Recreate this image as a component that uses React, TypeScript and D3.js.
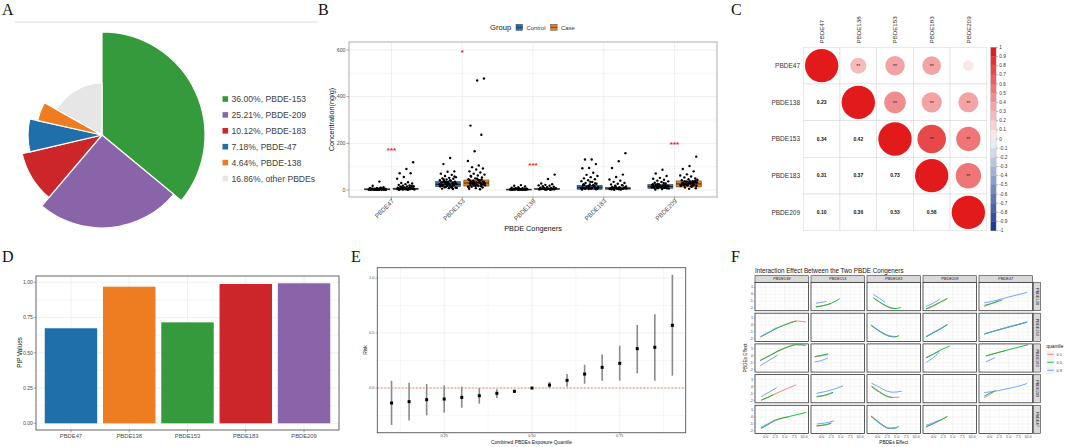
import React from "react";
import * as d3 from "d3";

const FONT = "'Liberation Sans', Arial, Helvetica, sans-serif";
const SERIF = "'Liberation Serif', 'Times New Roman', serif";

// ---------------- Panel A data ----------------
const pieLabels = ["PBDE-153", "PBDE-209", "PBDE-183", "PBDE-47", "PBDE-138", "other PBDEs"];
const pieShares = [36.0, 25.21, 10.12, 7.18, 4.64, 16.86];
const pieColors = ["#359a3b", "#8a64a8", "#cc262a", "#1f6faa", "#ee7d22", "#e6e6e6"];

// ---------------- Panel B data ----------------
const congenersB = ["PBDE47", "PBDE153", "PBDE138", "PBDE183", "PBDE209"];
const groupsB = ["Control", "Case"];
const ctrlQ1 = [1, 14, 1, 3, 7];
const ctrlMed = [3, 24, 2, 10, 15];
const ctrlQ3 = [5, 36, 4, 20, 24];
const caseQ1 = [2, 17, 2, 3, 13];
const caseMed = [5, 30, 4, 7, 26];
const caseQ3 = [8, 43, 7, 12, 39];
const ctrlPoints = [
  [36, 18, 12, 9, 8, 7, 6, 5, 5, 4, 4, 3, 3, 3, 2, 2, 2, 1, 1, 1, 0.5, 0.5, 6, 4, 2, 8, 10, 3, 1, 2, 5, 3, 2, 1, 7, 4, 2, 1, 3, 6, 2, 4, 1, 3],
  [137, 111, 80, 78, 70, 65, 60, 55, 52, 50, 48, 45, 42, 40, 38, 36, 34, 32, 30, 28, 26, 24, 22, 20, 18, 16, 14, 12, 10, 8, 6, 4, 35, 25, 15, 45, 58, 30, 20, 10, 33, 27, 22, 18, 29, 24, 16, 12, 38, 31, 26, 21, 17, 13, 9, 42, 36, 28, 19, 23],
  [21, 18, 15, 12, 10, 8, 7, 6, 5, 4, 4, 3, 3, 2, 2, 1, 1, 1, 0.5, 6, 3, 2, 5, 4, 3, 2, 1, 7, 5, 3, 2, 1, 4, 2],
  [131, 131, 111, 94, 93, 74, 65, 60, 55, 50, 46, 42, 38, 34, 30, 27, 24, 21, 18, 15, 12, 10, 8, 6, 4, 2, 20, 10, 5, 35, 25, 15, 13, 9, 7, 5, 3, 17, 11, 19, 14, 8, 6, 22, 28, 16, 4],
  [87, 71, 60, 52, 48, 44, 40, 37, 34, 31, 28, 25, 22, 20, 18, 16, 14, 12, 10, 8, 6, 4, 2, 15, 20, 25, 30, 12, 17, 13, 9, 21, 19, 11, 15, 23, 7, 14, 18, 10, 26, 16],
];
const casePoints = [
  [119, 90, 72, 72, 56, 48, 33, 30, 28, 25, 22, 20, 18, 16, 15, 14, 12, 11, 10, 9, 8, 7, 6, 5, 4, 3, 2, 1, 13, 17, 9, 6, 4, 2, 7, 5, 3, 8, 6, 4, 2, 10, 5, 3, 1, 12, 9],
  [478, 469, 276, 237, 166, 124, 105, 98, 92, 88, 80, 75, 70, 66, 62, 58, 54, 50, 46, 42, 38, 35, 32, 29, 26, 23, 20, 17, 14, 11, 8, 5, 3, 40, 30, 20, 60, 45, 25, 15, 33, 27, 36, 22, 41, 31, 19, 28, 44, 35, 24, 18, 12, 39, 30, 26, 48, 21, 16, 34],
  [66, 47, 28, 25, 22, 20, 18, 16, 14, 12, 10, 9, 8, 7, 6, 5, 4, 3, 2, 1, 5, 3, 6, 4, 3, 2, 8, 5, 7, 4, 2, 6, 3, 9],
  [158, 123, 94, 66, 56, 45, 40, 35, 30, 27, 24, 21, 18, 15, 12, 10, 8, 6, 4, 2, 1, 9, 5, 3, 20, 14, 7, 9, 5, 11, 6, 8, 4, 10, 7, 3, 13, 6, 9, 5],
  [143, 103, 90, 80, 67, 62, 58, 54, 50, 46, 42, 38, 35, 32, 29, 26, 23, 20, 17, 14, 11, 8, 5, 30, 25, 36, 44, 28, 20, 33, 27, 22, 31, 24, 18, 38, 29, 34, 26, 21, 16, 37, 41, 30, 25, 19],
];
const sigLabels = ["***", "*", "***", "", "***"];
const sigHeights = [171, 590, 108, 0, 198];

// ---------------- Panel C data ----------------
const congenersC = ["PBDE47", "PBDE138", "PBDE153", "PBDE183", "PBDE209"];
const corrRows = [
  [1, 0.23, 0.34, 0.31, 0.1],
  [0.23, 1, 0.42, 0.37, 0.36],
  [0.34, 0.42, 1, 0.73, 0.53],
  [0.31, 0.37, 0.73, 1, 0.58],
  [0.1, 0.36, 0.53, 0.58, 1],
];
const corrStars = [
  ["", "**", "**", "**", ""],
  ["", "", "**", "**", "**"],
  ["", "", "", "**", "**"],
  ["", "", "", "", "**"],
  ["", "", "", "", ""],
];
const colorbarTicks = [1, 0.9, 0.8, 0.7, 0.6, 0.5, 0.4, 0.3, 0.2, 0.1, 0, -0.1, -0.2, -0.3, -0.4, -0.5, -0.6, -0.7, -0.8, -0.9, -1];

// ---------------- Panel D data ----------------
const congenersD = ["PBDE47", "PBDE138", "PBDE153", "PBDE183", "PBDE209"];
const pipValues = [0.674, 0.969, 0.716, 0.988, 0.993];
const pipColors = ["#1f6faa", "#ee7d22", "#359a3b", "#cc262a", "#8a64a8"];
const pipTicks = [0, 0.25, 0.5, 0.75, 1];

// ---------------- Panel E data ----------------
const quantiles = [0.1, 0.15, 0.2, 0.25, 0.3, 0.35, 0.4, 0.45, 0.5, 0.55, 0.6, 0.65, 0.7, 0.75, 0.8, 0.85, 0.9];
const riskEst = [-0.136, -0.124, -0.106, -0.1, -0.085, -0.07, -0.048, -0.03, 0, 0.027, 0.07, 0.127, 0.188, 0.224, 0.358, 0.37, 0.57];
const riskLow = [-0.336, -0.294, -0.248, -0.224, -0.179, -0.142, -0.091, -0.045, -0.004, 0.0, 0.012, 0.039, 0.066, 0.067, 0.133, 0.067, 0.112];
const riskHigh = [0.066, 0.048, 0.036, 0.024, 0.012, 0.0, -0.012, -0.015, 0.004, 0.055, 0.127, 0.212, 0.306, 0.385, 0.573, 0.67, 1.03];
const riskYTicks = [0, 0.5, 1];
const riskXTicks = [0.25, 0.5, 0.75];

// ---------------- Panel F data ----------------
const facetVars = ["PBDE138", "PBDE153", "PBDE183", "PBDE209", "PBDE47"];
const quantileLevels = ["0.1", "0.5", "0.9"];
const quantileColors = ["#F8766D", "#00BA38", "#619CFF"];
const effectXTicks = [0, 2.5, 5, 7.5, 10];
const effectYTicks = [1, 0, -1, -2];
// [row, col, quantileIndex, points]
const interactionCurves: [number, number, number, number[][]][] = [
  [0, 1, 0, [[-1.5, -1.82], [0.5, -1.66], [2.2, -1.4]]],
  [0, 1, 1, [[-1.5, -1.8], [0.5, -1.62], [2.5, -1.3], [4.7, -0.65]]],
  [0, 1, 2, [[-1.5, -1.29], [1.3, -1.05]]],
  [0, 2, 0, [[-1.1, -0.55], [0.5, -1.15], [2, -1.65], [3.5, -2.0], [4.8, -2.05]]],
  [0, 2, 1, [[-1.1, -0.5], [0.5, -1.1], [2, -1.6], [3.5, -1.95], [4.8, -2.05], [6, -1.9]]],
  [0, 2, 2, [[-1.1, -0.05], [0.5, -0.6], [1.9, -1.15]]],
  [0, 3, 0, [[-2, -2.15], [0, -1.7], [2, -1.1], [3.6, -0.65]]],
  [0, 3, 1, [[-2, -2.1], [0, -1.6], [2, -1.05], [3.6, -0.6]]],
  [0, 3, 2, [[-2, -1.75], [0, -1.25], [1.7, -0.65]]],
  [0, 4, 0, [[-1.4, -1.75], [0.5, -1.35], [2.5, -0.9]]],
  [0, 4, 1, [[-1.4, -1.6], [1, -1.25], [3.4, -0.8]]],
  [0, 4, 2, [[-1.4, -1.25], [2, -0.85], [5, -0.4], [9.8, 0.25]]],

  [1, 0, 0, [[-1.3, -1.7], [1, -1.05], [3, -0.45], [5, 0.0], [8, 0.55], [10.6, 0.4]]],
  [1, 0, 1, [[-1.3, -1.7], [1, -1.05], [3, -0.45], [5, 0.0], [8, 0.55]]],
  [1, 0, 2, [[-1.3, -1.65], [1, -1.0], [2.8, -0.4]]],
  [1, 2, 0, [[-1.7, -0.05], [0, -0.7], [1.5, -1.2], [3, -1.6], [4.5, -1.7], [5.5, -1.55]]],
  [1, 2, 1, [[-1.7, -0.08], [0, -0.75], [1.5, -1.25], [3, -1.62], [4.5, -1.7], [5.5, -1.55]]],
  [1, 2, 2, [[-1.7, 0.0], [0, -0.68], [1.5, -1.18], [3, -1.55], [4.5, -1.65]]],
  [1, 3, 0, [[-2, -1.7], [0, -1.1], [2, -0.5], [3.6, 0.05]]],
  [1, 3, 1, [[-2, -1.72], [0, -1.12], [2, -0.52], [3.6, 0.03]]],
  [1, 3, 2, [[-2, -1.65], [0, -1.05], [2, -0.45], [3.6, 0.08]]],
  [1, 4, 0, [[-1.4, -1.3], [2, -0.75], [5, -0.3], [9.8, 0.4]]],
  [1, 4, 1, [[-1.4, -1.32], [2, -0.77], [5, -0.32], [9.8, 0.38]]],
  [1, 4, 2, [[-1.4, -1.28], [2, -0.73], [5, -0.28], [9.8, 0.42]]],

  [2, 0, 0, [[-1.45, -0.75], [1, -0.05], [3, 0.55], [5.5, 1.15], [7.5, 1.5]]],
  [2, 0, 1, [[-1.45, -0.7], [1, 0.0], [3, 0.6], [5.5, 1.2], [8, 1.55], [10.5, 1.45]]],
  [2, 0, 2, [[-1.45, -1.45], [1, -0.65], [3.1, 0.05]]],
  [2, 1, 0, [[-1.8, -0.2], [1.7, 0.15]]],
  [2, 1, 1, [[-1.8, -0.15], [1.7, 0.25]]],
  [2, 1, 2, [[-1.8, -0.9], [0, -0.7], [1.7, -0.3]]],
  [2, 3, 0, [[-2, -0.35], [0, 0.2], [1.5, 0.65]]],
  [2, 3, 1, [[-2, -0.3], [0, 0.25], [2, 0.85], [4.2, 1.35]]],
  [2, 3, 2, [[-2, -1.0], [-0.5, -0.45], [1.5, 0.5]]],
  [2, 4, 0, [[-1, -0.05], [2, 0.4], [4, 0.7]]],
  [2, 4, 1, [[-1, -0.05], [2, 0.4], [5, 0.85], [10, 1.55]]],
  [2, 4, 2, [[-1, -0.9], [1.4, -0.3]]],

  [3, 0, 0, [[-1.0, -1.95], [1, -1.5], [3, -0.95], [5.5, -0.35], [8, 0.2]]],
  [3, 0, 1, [[-1.2, -2.0], [0.5, -1.6], [2.0, -1.2]]],
  [3, 0, 2, [[-1.2, -1.5], [1, -0.8], [2.9, -0.2]]],
  [3, 1, 0, [[-1.3, -1.5], [1, -1.3], [3, -0.9]]],
  [3, 1, 1, [[-1.3, -1.45], [1, -1.25], [3, -0.85]]],
  [3, 1, 2, [[-1.3, -1.0], [1, -0.75], [3, -0.45], [5.6, 0.05]]],
  [3, 2, 0, [[-1.6, 0.05], [0.5, -0.75], [2.25, -1.35], [4, -1.6], [5.7, -1.55]]],
  [3, 2, 1, [[-1.6, -0.05], [0.5, -0.85], [2.25, -1.4], [4, -1.6]]],
  [3, 2, 2, [[-1.6, 0.45], [0.5, -0.15], [2.25, -0.65], [4, -0.85], [6.3, -0.7]]],
  [3, 4, 0, [[-1.4, -1.6], [0, -1.2], [1.2, -0.75]]],
  [3, 4, 1, [[-1.4, -1.4], [0, -1.0], [1.6, -0.6]]],
  [3, 4, 2, [[-1.4, -0.9], [2, -0.65], [5, -0.3], [7.5, 0.0], [9.8, 0.4]]],

  [4, 0, 0, [[-1.2, -1.65], [0.5, -1.15], [2, -0.65], [3.3, -0.35], [6, 0.0]]],
  [4, 0, 1, [[-1.2, -1.6], [0.5, -1.1], [2, -0.6], [3.3, -0.3], [6, 0.05], [10.6, 0.65]]],
  [4, 0, 2, [[-1.2, -1.5], [0.5, -1.0], [2.5, -0.4]]],
  [4, 1, 0, [[-1.3, -1.3], [1, -1.15], [2.4, -0.95]]],
  [4, 1, 1, [[-1.3, -1.25], [1, -1.1], [2.6, -0.85]]],
  [4, 1, 2, [[-1.3, -1.0], [1, -0.85], [3.3, -0.55]]],
  [4, 2, 0, [[-1.7, 0.15], [0, -0.6], [1.5, -1.2], [3, -1.6], [4.5, -1.6]]],
  [4, 2, 1, [[-1.7, 0.12], [0, -0.62], [1.5, -1.22], [3, -1.62], [4.5, -1.6], [5.5, -1.35]]],
  [4, 2, 2, [[-1.7, 0.05], [0, -0.7], [1.5, -1.3], [3, -1.65], [4.5, -1.55], [5.5, -1.4]]],
  [4, 3, 0, [[-2, -1.45], [0, -0.95], [2, -0.4], [3.6, 0.05]]],
  [4, 3, 1, [[-2, -1.42], [0, -0.92], [2, -0.38], [3.6, 0.07]]],
  [4, 3, 2, [[-2, -1.2], [0, -0.8], [1.5, -0.45]]],
];

// ---------------- style constants ----------------
const pieRadius = [103, 93, 82, 74, 66, 52];
const GRID = "#ebebeb";
const TICKTXT = "#4d4d4d";

function Letter({ x, y, t }: { x: number; y: number; t: string }) {
  return (
    <text x={x} y={y} fontFamily={SERIF} fontSize={16} fill="#111">
      {t}
    </text>
  );
}

function PanelA() {
  const cx = 102, cy = 135;
  const arcs = d3.pie<number>().sort(null).value((d) => d)(pieShares);
  const arcGen = d3.arc<any>();
  return (
    <g>
      <Letter x={2} y={15} t="A" />
      <line x1={15} x2={317} y1={22} y2={22} stroke="#dcdcdc" strokeWidth={1} />
      <g transform={`translate(${cx},${cy})`}>
        {arcs.map((a, i) => (
          <path
            key={i}
            d={arcGen({ innerRadius: 0, outerRadius: pieRadius[i], startAngle: a.startAngle, endAngle: a.endAngle }) as string}
            fill={pieColors[i]}
            stroke="#fff"
            strokeWidth={1.2}
          />
        ))}
      </g>
      {pieLabels.map((lab, i) => (
        <g key={lab} transform={`translate(222.5,${99 + i * 15.9})`}>
          <rect x={0} y={-2.8} width={5.6} height={5.6} fill={pieColors[i]} />
          <text x={9} y={3.2} fontSize={8.6} fill="#404040" fontFamily={FONT}>
            {`${pieShares[i].toFixed(2)}%, ${lab}`}
          </text>
        </g>
      ))}
    </g>
  );
}

function PanelB() {
  const L = 349, R = 717, T = 42, Bt = 197;
  const x = d3.scalePoint<string>().domain(congenersB).range([L, R]).padding(0.6);
  const y = d3.scaleLinear().domain([0, 600]).range([190, 50]);
  const step = x.step();
  const off = step * 0.2;
  const bw = step * 0.355;
  const boxColor = ["#2a72ad", "#e8801f"];
  const q1s = [ctrlQ1, caseQ1], meds = [ctrlMed, caseMed], q3s = [ctrlQ3, caseQ3];
  const pts = [ctrlPoints, casePoints];
  return (
    <g fontFamily={FONT}>
      <Letter x={318} y={15} t="B" />
      <text x={490} y={30} fontSize={7.6} fill="#111">Group</text>
      {groupsB.map((g, gi) => {
        const kx = gi === 0 ? 516 : 550.5;
        return (
          <g key={g}>
            <rect x={kx} y={24.3} width={6.6} height={6} fill={boxColor[gi]} stroke="#333" strokeWidth={0.4} />
            <line x1={kx} x2={kx + 6.6} y1={27.3} y2={27.3} stroke="#222" strokeWidth={0.6} />
            <text x={kx + 10.5} y={30} fontSize={5.9} fill="#333">{g}</text>
          </g>
        );
      })}
      <rect x={L} y={T} width={R - L} height={Bt - T} fill="#fff" />
      {d3.range(0, 601, 100).map((v) => (
        <line key={v} x1={L} x2={R} y1={y(v)} y2={y(v)} stroke={GRID} strokeWidth={v % 200 === 0 ? 0.8 : 0.5} />
      ))}
      {congenersB.map((c) => (
        <line key={c} x1={x(c)} x2={x(c)} y1={T} y2={Bt} stroke={GRID} strokeWidth={0.8} />
      ))}
      {congenersB.map((c, ci) =>
        [0, 1].map((gi) => {
          const cxp = (x(c) as number) + (gi === 0 ? -off : off);
          const top = y(q3s[gi][ci]);
          const bot = y(q1s[gi][ci]);
          return (
            <g key={c + gi}>
              <rect x={cxp - bw / 2} y={top} width={bw} height={Math.max(bot - top, 1)} fill={boxColor[gi]} stroke="#333" strokeWidth={0.5} />
              <line x1={cxp - bw / 2} x2={cxp + bw / 2} y1={y(meds[gi][ci])} y2={y(meds[gi][ci])} stroke="#1a1a1a" strokeWidth={0.9} />
            </g>
          );
        })
      )}
      {congenersB.map((c, ci) =>
        [0, 1].map((gi) => {
          const cxp = (x(c) as number) + (gi === 0 ? -off : off);
          return pts[gi][ci].map((v, i) => {
            const j = (((i + 1) * 0.6180339887 + gi * 0.31) % 1) - 0.5;
            return <circle key={`${c}${gi}${i}`} cx={cxp + j * bw * 0.7} cy={y(v)} r={1.2} fill="#000" />;
          });
        })
      )}
      {congenersB.map((c, ci) =>
        sigLabels[ci] ? (
          <text key={c} x={x(c)} y={y(sigHeights[ci]) + 3} textAnchor="middle" fontSize={8} fontWeight="bold" fill="#e8231f">
            {sigLabels[ci]}
          </text>
        ) : null
      )}
      <rect x={L} y={T} width={R - L} height={Bt - T} fill="none" stroke="#b3b3b3" strokeWidth={1.1} />
      {[0, 200, 400, 600].map((v) => (
        <g key={v}>
          <line x1={346.5} x2={L} y1={y(v)} y2={y(v)} stroke="#4d4d4d" strokeWidth={0.5} />
          <text x={345.5} y={y(v) + 1.8} textAnchor="end" fontSize={5.2} fill={TICKTXT}>{v}</text>
        </g>
      ))}
      {congenersB.map((c) => (
        <g key={c}>
          <line x1={x(c)} x2={x(c)} y1={Bt} y2={Bt + 2.5} stroke="#4d4d4d" strokeWidth={0.5} />
          <text transform={`translate(${(x(c) as number) + 3},${Bt + 4.5}) rotate(-45)`} textAnchor="end" fontSize={6.3} fill={TICKTXT}>
            {c}
          </text>
        </g>
      ))}
      <text x={533} y={230.5} textAnchor="middle" fontSize={7.3} fill="#111">PBDE Congeners</text>
      <text transform={`translate(334,119.5) rotate(-90)`} textAnchor="middle" fontSize={7.2} fill="#111">
        Concentration(ng/g)
      </text>
    </g>
  );
}

function corrColor(v: number) {
  const bin = Math.sign(v) * Math.ceil(Math.abs(v) * 10 - 1e-9) / 10;
  const s = d3.scaleLinear<string>().domain([-1, 0, 1]).range(["#1d3c94", "#ffffff", "#e31a1c"]);
  return s(bin);
}

function PanelC() {
  const x = d3.scaleBand<string>().domain(congenersC).range([803.3, 986.7]);
  const y = d3.scaleBand<string>().domain(congenersC).range([47.3, 230.7]);
  const bw = x.bandwidth();
  const cb = d3.scaleLinear().domain([1, -1]).range([47.3, 230.7]);
  const bins = d3.range(20).map((i) => 1 - i * 0.1);
  return (
    <g fontFamily={FONT}>
      <Letter x={731} y={15} t="C" />
      {congenersC.map((r) =>
        congenersC.map((c) => (
          <rect key={r + c} x={x(c)} y={y(r)} width={bw} height={y.bandwidth()} fill="#fff" stroke="#dadada" strokeWidth={0.6} />
        ))
      )}
      {congenersC.map((r, ri) =>
        congenersC.map((c, ci) => {
          const v = corrRows[ri][ci];
          const cxp = (x(c) as number) + bw / 2;
          const cyp = (y(r) as number) + y.bandwidth() / 2;
          if (ci >= ri) {
            return (
              <g key={r + c}>
                <circle cx={cxp} cy={cyp} r={Math.sqrt(Math.abs(v)) * bw * 0.455} fill={corrColor(v)} />
                {corrStars[ri][ci] ? (
                  <text x={cxp} y={cyp + 2.2} textAnchor="middle" fontSize={5} fill="#222">{corrStars[ri][ci]}</text>
                ) : null}
              </g>
            );
          }
          return (
            <text key={r + c} x={cxp} y={cyp + 1.8} textAnchor="middle" fontSize={5} fontWeight="bold" fill="#111">
              {v.toFixed(2)}
            </text>
          );
        })
      )}
      {congenersC.map((c) => (
        <text key={c} transform={`translate(${(x(c) as number) + bw / 2 + 2.2},43.5) rotate(-90)`} fontSize={6.2} fill="#333">
          {c}
        </text>
      ))}
      {congenersC.map((r) => (
        <text key={r} x={800} y={(y(r) as number) + y.bandwidth() / 2 + 2.2} textAnchor="end" fontSize={6.5} fill="#333">
          {r}
        </text>
      ))}
      {bins.map((b, i) => (
        <rect key={i} x={990.7} y={cb(b)} width={5.4} height={cb(b - 0.1) - cb(b) + 0.2} fill={corrColor(b > 0 ? b : b - 0.1)} />
      ))}
      <rect x={990.7} y={47.3} width={5.4} height={183.4} fill="none" stroke="#999" strokeWidth={0.3} />
      {colorbarTicks.map((t) => (
        <g key={t}>
          <line x1={996.1} x2={998} y1={cb(t)} y2={cb(t)} stroke="#555" strokeWidth={0.4} />
          <text x={999.3} y={cb(t) + 1.6} fontSize={4.7} fill="#333">{t}</text>
        </g>
      ))}
    </g>
  );
}

function PanelD() {
  const L = 36, R = 339, T = 276, Bt = 430;
  const x = d3.scaleBand<string>().domain(congenersD).range([L, R]).paddingInner(0.1).paddingOuter(0.15);
  const y = d3.scaleLinear().domain([0, 1]).range([423.3, 282.3]);
  return (
    <g fontFamily={FONT}>
      <Letter x={2} y={262} t="D" />
      {d3.range(0, 1.01, 0.125).map((v, i) => (
        <line key={i} x1={L} x2={R} y1={y(v)} y2={y(v)} stroke={GRID} strokeWidth={i % 2 === 0 ? 0.7 : 0.4} />
      ))}
      {congenersD.map((c) => (
        <line key={c} x1={(x(c) as number) + x.bandwidth() / 2} x2={(x(c) as number) + x.bandwidth() / 2} y1={T} y2={Bt} stroke={GRID} strokeWidth={0.7} />
      ))}
      {congenersD.map((c, i) => (
        <rect key={c} x={x(c)} y={y(pipValues[i])} width={x.bandwidth()} height={y(0) - y(pipValues[i])} fill={pipColors[i]} />
      ))}
      <rect x={L} y={T} width={R - L} height={Bt - T} fill="none" stroke="#555" strokeWidth={0.9} />
      {pipTicks.map((t) => (
        <g key={t}>
          <line x1={L - 2.5} x2={L} y1={y(t)} y2={y(t)} stroke="#555" strokeWidth={0.5} />
          <text x={L - 3} y={y(t) + 1.8} textAnchor="end" fontSize={5.2} fill={TICKTXT}>{t.toFixed(2)}</text>
        </g>
      ))}
      {congenersD.map((c) => (
        <g key={c}>
          <line x1={(x(c) as number) + x.bandwidth() / 2} x2={(x(c) as number) + x.bandwidth() / 2} y1={Bt} y2={Bt + 2.5} stroke="#555" strokeWidth={0.5} />
          <text x={(x(c) as number) + x.bandwidth() / 2} y={438.3} textAnchor="middle" fontSize={5.8} fill={TICKTXT}>{c}</text>
        </g>
      ))}
      <text transform="translate(22.3,352.5) rotate(-90)" textAnchor="middle" fontSize={6.3} fill="#111">PIP Values</text>
    </g>
  );
}

function PanelE() {
  const L = 377.3, R = 685.7, T = 267.7, Bt = 432.7;
  const x = d3.scaleLinear().domain([0.0594, 0.938]).range([L, R]);
  const y = d3.scaleLinear().domain([-0.406, 1.094]).range([Bt, T]);
  return (
    <g fontFamily={FONT}>
      <Letter x={351} y={262} t="E" />
      {d3.range(-0.25, 1.01, 0.25).map((v, i) => (
        <line key={i} x1={L} x2={R} y1={y(v)} y2={y(v)} stroke={GRID} strokeWidth={Math.abs((v * 2) % 1) < 1e-6 ? 0.7 : 0.4} />
      ))}
      {d3.range(0.125, 0.9, 0.125).map((v, i) => (
        <line key={i} x1={x(v)} x2={x(v)} y1={T} y2={Bt} stroke={GRID} strokeWidth={i % 2 === 1 ? 0.7 : 0.4} />
      ))}
      <line x1={L} x2={R} y1={y(0)} y2={y(0)} stroke="#e3704f" strokeWidth={0.8} strokeDasharray="2,1.5" />
      {quantiles.map((q, i) => (
        <g key={q}>
          <line x1={x(q)} x2={x(q)} y1={y(riskLow[i])} y2={y(riskHigh[i])} stroke="#8a8a8a" strokeWidth={1.6} />
          <rect x={x(q) - 1.5} y={y(riskEst[i]) - 1.5} width={3} height={3} fill="#000" />
        </g>
      ))}
      <rect x={L} y={T} width={R - L} height={Bt - T} fill="none" stroke="#555" strokeWidth={0.9} />
      {riskYTicks.map((t) => (
        <g key={t}>
          <line x1={L - 2} x2={L} y1={y(t)} y2={y(t)} stroke="#555" strokeWidth={0.4} />
          <text x={L - 3} y={y(t) + 1.3} textAnchor="end" fontSize={3.8} fill={TICKTXT}>{t.toFixed(1)}</text>
        </g>
      ))}
      {riskXTicks.map((t) => (
        <g key={t}>
          <line x1={x(t)} x2={x(t)} y1={Bt} y2={Bt + 2} stroke="#555" strokeWidth={0.4} />
          <text x={x(t)} y={437.3} textAnchor="middle" fontSize={3.8} fill={TICKTXT}>{t.toFixed(2)}</text>
        </g>
      ))}
      <text x={531.5} y={443.8} textAnchor="middle" fontSize={4.9} fill="#111">Combined PBDEs Exposure Quantile</text>
      <text transform="translate(366.8,350) rotate(-90)" textAnchor="middle" fontSize={5} fill="#111">Risk</text>
    </g>
  );
}

function PanelF() {
  const colLeft = 755, colStep = 56, pw = 53.5;
  const rowTop = 282.5, rowStep = 30.7, ph = 28.2;
  const stripTop = 275.7;
  const x = d3.scaleLinear().domain([-2.77, 11.2]).range([0, pw]);
  const y = d3.scaleLinear().domain([-2.36, 1.67]).range([ph, 0]);
  const line = d3
    .line<number[]>()
    .x((d) => x(d[0]))
    .y((d) => y(d[1]))
    .curve(d3.curveMonotoneX);
  const minorX = [-1.25, 1.25, 3.75, 6.25, 8.75];
  const minorY = [-1.5, -0.5, 0.5, 1.5];
  return (
    <g fontFamily={FONT}>
      <Letter x={731} y={262} t="F" />
      <text x={755} y={273} fontSize={6.3} fill="#111">Interaction Effect Between the Two PBDE Congeners</text>
      {facetVars.map((cv, ci) => (
        <g key={cv} transform={`translate(${colLeft + ci * colStep},${stripTop})`}>
          <rect x={0} y={0} width={pw} height={rowTop - stripTop} fill="#d9d9d9" stroke="#333" strokeWidth={0.6} />
          <text x={pw / 2} y={(rowTop - stripTop) / 2 + 1.4} textAnchor="middle" fontSize={3.9} fill="#1a1a1a">{cv}</text>
        </g>
      ))}
      {facetVars.map((rv, ri) => (
        <g key={rv} transform={`translate(${colLeft + 4 * colStep + pw + 1},${rowTop + ri * rowStep})`}>
          <rect x={0} y={0} width={7} height={ph} fill="#d9d9d9" stroke="#333" strokeWidth={0.6} />
          <text transform={`translate(2.2,${ph / 2}) rotate(90)`} textAnchor="middle" fontSize={3.9} fill="#1a1a1a">{rv}</text>
        </g>
      ))}
      {facetVars.map((rv, ri) =>
        facetVars.map((cv, ci) => (
          <g key={rv + cv} transform={`translate(${colLeft + ci * colStep},${rowTop + ri * rowStep})`}>
            <rect x={0} y={0} width={pw} height={ph} fill="#fff" />
            {minorX.map((v) => (
              <line key={"mx" + v} x1={x(v)} x2={x(v)} y1={0} y2={ph} stroke="#f2f2f2" strokeWidth={0.35} />
            ))}
            {minorY.map((v) => (
              <line key={"my" + v} x1={0} x2={pw} y1={y(v)} y2={y(v)} stroke="#f2f2f2" strokeWidth={0.35} />
            ))}
            {effectXTicks.map((v) => (
              <line key={"gx" + v} x1={x(v)} x2={x(v)} y1={0} y2={ph} stroke={GRID} strokeWidth={0.5} />
            ))}
            {effectYTicks.map((v) => (
              <line key={"gy" + v} x1={0} x2={pw} y1={y(v)} y2={y(v)} stroke={GRID} strokeWidth={0.5} />
            ))}
            {interactionCurves
              .filter((c) => c[0] === ri && c[1] === ci)
              .sort((a, b) => a[2] - b[2])
              .map((c) => (
                <path key={c[2]} d={line(c[3]) as string} fill="none" stroke={quantileColors[c[2]]} strokeWidth={0.9} />
              ))}
            <rect x={0} y={0} width={pw} height={ph} fill="none" stroke="#333" strokeWidth={0.8} />
          </g>
        ))
      )}
      {facetVars.map((rv, ri) =>
        effectYTicks.map((t) => (
          <g key={rv + t}>
            <line x1={colLeft - 1.5} x2={colLeft} y1={rowTop + ri * rowStep + y(t)} y2={rowTop + ri * rowStep + y(t)} stroke="#555" strokeWidth={0.35} />
            <text x={colLeft - 2} y={rowTop + ri * rowStep + y(t) + 1.3} textAnchor="end" fontSize={3.8} fill={TICKTXT}>{t}</text>
          </g>
        ))
      )}
      {facetVars.map((cv, ci) =>
        effectXTicks.map((t) => (
          <g key={cv + t}>
            <line x1={colLeft + ci * colStep + x(t)} x2={colLeft + ci * colStep + x(t)} y1={rowTop + 4 * rowStep + ph} y2={rowTop + 4 * rowStep + ph + 1.5} stroke="#555" strokeWidth={0.35} />
            <text x={colLeft + ci * colStep + x(t)} y={438.3} textAnchor="middle" fontSize={3.8} fill={TICKTXT}>{t.toFixed(1)}</text>
          </g>
        ))
      )}
      <text x={893.7} y={443.5} textAnchor="middle" fontSize={4.8} fill="#111">PBDEs Effect</text>
      <text transform="translate(746.5,358) rotate(-90)" textAnchor="middle" fontSize={4.8} fill="#111">PBDEs Effect</text>
      <text x={1046.5} y={348} fontSize={4.8} fill="#111">quantile</text>
      {quantileLevels.map((q, i) => (
        <g key={q} transform={`translate(1046.5,${350.5 + i * 8})`}>
          <rect x={0} y={0} width={8} height={7.5} fill="#f2f2f2" />
          <line x1={0.8} x2={7.2} y1={3.75} y2={3.75} stroke={quantileColors[i]} strokeWidth={0.9} />
          <text x={10} y={5.2} fontSize={3.9} fill="#333">{q}</text>
        </g>
      ))}
    </g>
  );
}

export default function App() {
  return (
    <svg
      width={1065}
      height={447}
      viewBox="0 0 1065 447"
      style={{ position: "absolute", left: 0, top: 0, background: "#fff" }}
      fontFamily={FONT}
    >
      <rect x={0} y={0} width={1065} height={447} fill="#fff" />
      <PanelA />
      <PanelB />
      <PanelC />
      <PanelD />
      <PanelE />
      <PanelF />
    </svg>
  );
}
